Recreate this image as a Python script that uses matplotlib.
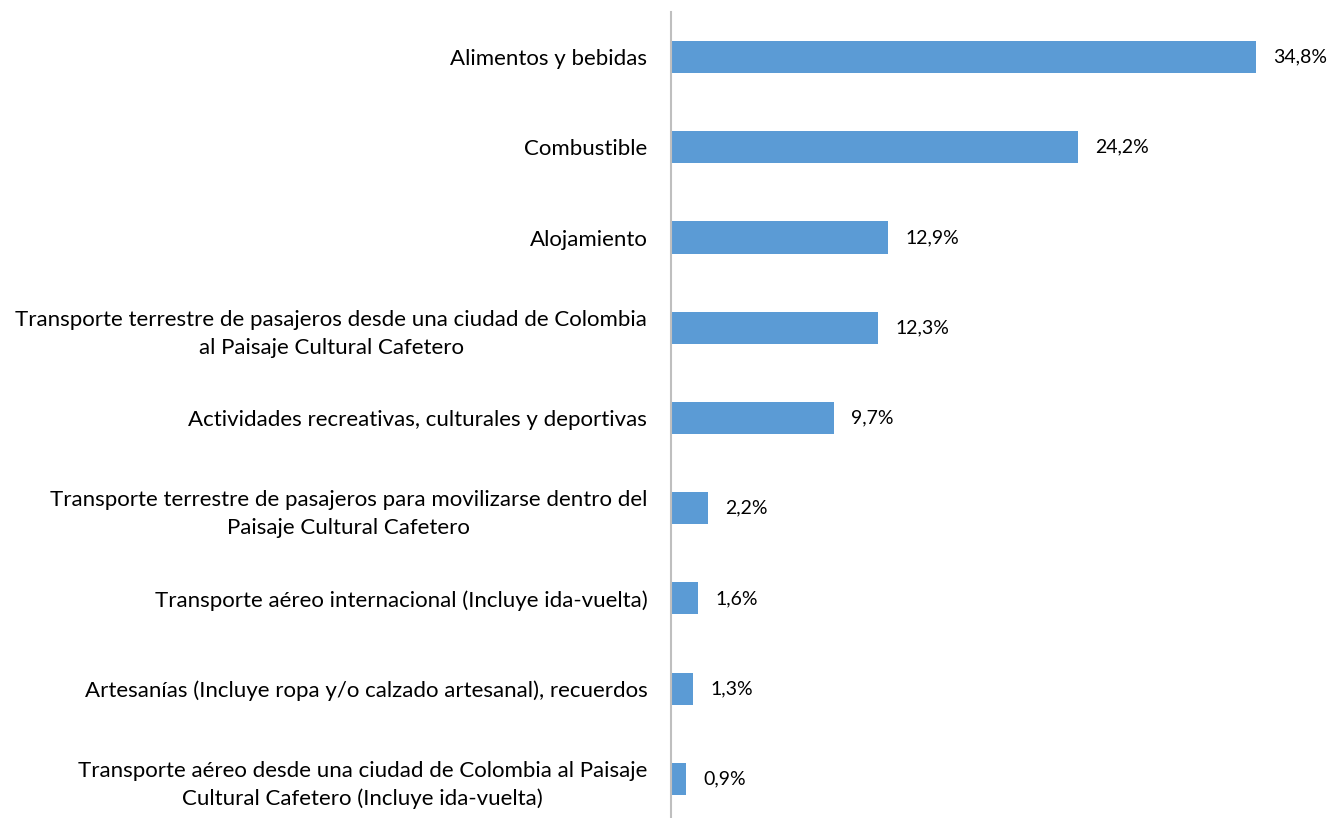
import matplotlib
matplotlib.use("Agg")
import matplotlib.pyplot as plt

plt.rcParams['font.family'] = ['Lato', 'DejaVu Sans']

categories = [
    "Alimentos y bebidas",
    "Combustible",
    "Alojamiento",
    "Transporte terrestre de pasajeros desde una ciudad de Colombia\nal Paisaje Cultural Cafetero",
    "Actividades recreativas, culturales y deportivas",
    "Transporte terrestre de pasajeros para movilizarse dentro del\nPaisaje Cultural Cafetero",
    "Transporte aéreo internacional (Incluye ida-vuelta)",
    "Artesanías (Incluye ropa y/o calzado artesanal), recuerdos",
    "Transporte aéreo desde una ciudad de Colombia al Paisaje\nCultural Cafetero (Incluye ida-vuelta)",
]
values = [34.8, 24.2, 12.9, 12.3, 9.7, 2.2, 1.6, 1.3, 0.9]
value_labels = ["34,8%", "24,2%", "12,9%", "12,3%", "9,7%", "2,2%", "1,6%", "1,3%", "0,9%"]

fig = plt.figure(figsize=(13.3, 8.18), dpi=100)
ax = fig.add_axes([0.5045, -0.0073, 0.4803, 0.9927])

pos = list(range(len(categories)))
ax.barh(pos, values, height=0.355, color="#5B9BD5")
ax.set_ylim(len(categories) - 0.5, -0.5)
ax.set_xlim(0, 38)

for p, v, lab in zip(pos, values, value_labels):
    ax.annotate(lab, (v, p), xytext=(12.5, 0), textcoords="offset points",
                va="center", ha="left", fontsize=14, color="#000000")

ax.set_yticks(pos)
ax.set_yticklabels(categories, fontsize=16, ha="right")
for t in ax.get_yticklabels():
    t.set_multialignment("center")
    t.set_linespacing(1.5)
ax.tick_params(axis="y", length=0, pad=17)
ax.set_xticks([])
for s in ["top", "right", "bottom"]:
    ax.spines[s].set_visible(False)
ax.spines["left"].set_color("#BFBFBF")
ax.spines["left"].set_linewidth(1.5)

fig.savefig("out.png", dpi=100)
